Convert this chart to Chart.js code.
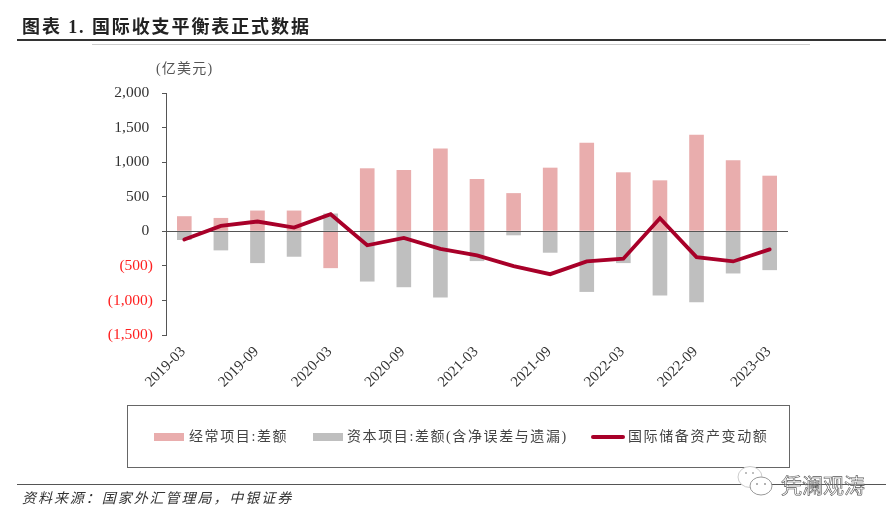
<!DOCTYPE html>
<html>
<head>
<meta charset="utf-8">
<script src="https://cdn.jsdelivr.net/npm/chart.js@4"></script>
<style>
    html, body { margin: 0; padding: 0; background: #fff; }
    body { width: 895px; height: 521px; position: relative; overflow: hidden;
           font-family: "Liberation Serif", "Noto Sans CJK SC", serif; }
    #chart { position: absolute; left: 0; top: 0; }
    .abs { position: absolute; white-space: nowrap; }
    .rule { position: absolute; left: 17px; width: 869px; }
    #title { left: 22px; top: 12px; font-size: 18px; font-weight: 700; letter-spacing: 1.9px; color: #222; }
    #unit { left: 156px; top: 57px; font-size: 14px; letter-spacing: 1.2px; color: #555; }
    #legend { position: absolute; left: 127px; top: 405px; width: 661px; height: 61px; border: 1.3px solid #666; }
    .swatch { position: absolute; }
    .ltext { position: absolute; top: 22px; font-size: 14px; line-height: 18px; letter-spacing: 1.6px; color: #444; white-space: nowrap; }
    #source { left: 22px; top: 487px; font-size: 14px; font-style: italic; letter-spacing: 1.95px; color: #333; }
    #mark { left: 781px; top: 469px; font-size: 21px; color: rgba(255,255,255,0.35); -webkit-text-stroke: 0.6px #555; }
</style>
</head>
<body>
<canvas id="chart" width="895" height="521" style="width:895px;height:521px"></canvas>
<div class="abs" id="title">图表 1. 国际收支平衡表正式数据</div>
<div class="rule" style="top:39px;height:1.5px;background:#333"></div>
<div class="rule" style="top:44px;left:92px;width:718px;height:1px;background:#ccc"></div>
<div class="abs" id="unit">(亿美元)</div>
<div id="legend"></div>
<div class="rule" style="top:484px;height:1.2px;background:#555"></div>
<div class="abs" id="source">资料来源：国家外汇管理局，中银证券</div>
<svg class="abs" style="left:737px;top:465px" width="44" height="32">
    <ellipse cx="13" cy="12" rx="12" ry="10.5" fill="#fff" stroke="#ccc"/>
    <circle cx="9" cy="8" r="1" fill="#aaa"/>
    <circle cx="16" cy="8" r="1" fill="#aaa"/>
    <ellipse cx="24" cy="21" rx="11" ry="9" fill="#fff" stroke="#999"/>
    <circle cx="20" cy="19" r="1" fill="#999"/>
    <circle cx="28" cy="19" r="1" fill="#999"/>
</svg>
<div class="abs" id="mark">凭澜观涛</div>
<script>
const categories = ['2019-03','2019-06','2019-09','2019-12','2020-03','2020-06','2020-09','2020-12','2021-03',
    '2021-06','2021-09','2021-12','2022-03','2022-06','2022-09','2022-12','2023-03'];
const xTickLabels = ['2019-03','2019-09','2020-03','2020-09','2021-03','2021-09','2022-03','2022-09','2023-03'];
const currentAccount = [218,193,300,300,-533,911,886,1196,756,552,920,1279,853,737,1395,1027,804];
const capitalAccount = [-126,-276,-460,-368,257,-727,-809,-959,-431,-58,-310,-877,-460,-930,-1027,-610,-562];
const reserveChange = [-120,77,141,54,247,-203,-97,-255,-349,-504,-620,-436,-397,189,-373,-436,-262];
const currentName = '经常项目:差额';
const capitalName = '资本项目:差额(含净误差与遗漏)';
const reserveName = '国际储备资产变动额';

const PINK = '#e9adad';
const GRAY = '#bfbfbf';
const RED = '#a80029';
const AXIS = '#555';

function formatTick(v) {
    const s = Math.abs(v).toLocaleString('en-US');
    // positives keep the room of the closing bracket
    return v < 0 ? `(${s})` : s + '\u00a0';
}

// zero line sits above the bars but under the red line
const zeroLine = {
    id: 'zeroLine',
    beforeDatasetDraw(chart, args) {
        if (args.index !== 2) return;
        const { ctx, chartArea, scales } = chart;
        const y = Math.round(scales.y.getPixelForValue(0)) + 0.5;
        ctx.save();
        ctx.strokeStyle = AXIS;
        ctx.lineWidth = 1;
        ctx.beginPath();
        ctx.moveTo(chartArea.left, y);
        ctx.lineTo(chartArea.right, y);
        ctx.stroke();
        ctx.restore();
    }
};

new Chart(document.getElementById('chart').getContext('2d'), {
    type: 'bar',
    data: {
        labels: categories,
        datasets: [
            { label: currentName, data: currentAccount, backgroundColor: PINK, order: 2 },
            { label: capitalName, data: capitalAccount, backgroundColor: GRAY, order: 1 },
            { label: reserveName, data: reserveChange, type: 'line', borderColor: RED, borderWidth: 3.8,
              pointRadius: 0, tension: 0, borderCapStyle: 'round', borderJoinStyle: 'miter', fill: false, order: 0 }
        ]
    },
    options: {
        responsive: false,
        animation: false,
        devicePixelRatio: 1,
        layout: { padding: { top: 93, right: 107, left: 0, bottom: 0 } },
        plugins: { legend: { display: false }, tooltip: { enabled: false } },
        datasets: { bar: { barPercentage: 1, categoryPercentage: 0.4 } },
        scales: {
            x: {
                stacked: true,
                afterFit(scale) { scale.height = 186; },
                grid: { display: false },
                border: { display: false },
                ticks: {
                    autoSkip: false,
                    maxRotation: 45,
                    minRotation: 45,
                    padding: 0,
                    labelOffset: -1,
                    color: '#333',
                    font: { family: '"Liberation Serif"', size: 15 },
                    callback(v, i) { return xTickLabels.includes(categories[i]) ? categories[i] : ''; }
                }
            },
            y: {
                stacked: true,
                min: -1500,
                max: 2000,
                afterFit(scale) { scale.width = 166; },
                grid: { drawOnChartArea: false, tickColor: AXIS, tickLength: 4 },
                border: { color: AXIS, width: 1 },
                ticks: {
                    stepSize: 500,
                    padding: 9,
                    color: ctx => ctx.tick.value < 0 ? '#ff2020' : '#333',
                    font: { family: '"Liberation Serif"', size: 15.5 },
                    callback: formatTick
                }
            }
        }
    },
    plugins: [zeroLine]
});

// legend box built from the series names
const legendItems = [
    { name: currentName, color: PINK, x: 26, w: 30, h: 8, tx: 61 },
    { name: capitalName, color: GRAY, x: 185, w: 30, h: 8, tx: 219 },
    { name: reserveName, color: RED, x: 463, w: 34, h: 4, tx: 500 }
];
const legendBox = document.getElementById('legend');
legendItems.forEach(it => {
    const sw = document.createElement('div');
    sw.className = 'swatch';
    sw.style.cssText = `left:${it.x}px;top:${31 - it.h / 2}px;width:${it.w}px;height:${it.h}px;background:${it.color};border-radius:${it.h === 4 ? 2 : 0}px`;
    legendBox.appendChild(sw);
    const t = document.createElement('div');
    t.className = 'ltext';
    t.style.left = it.tx + 'px';
    t.textContent = it.name;
    legendBox.appendChild(t);
});
</script>
</body>
</html>
